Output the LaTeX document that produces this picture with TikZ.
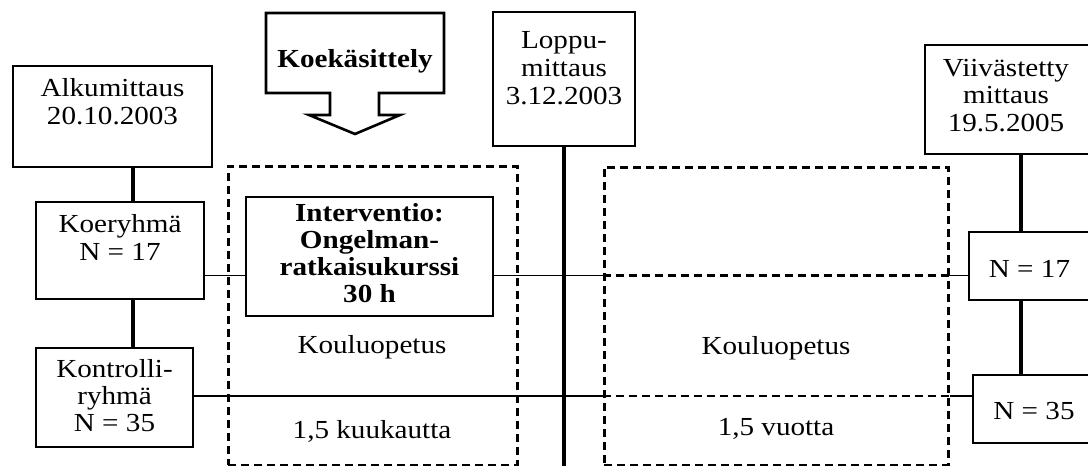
\documentclass[tikz,border=0pt]{standalone}
\usepackage{fontspec}
\setmainfont{Liberation Serif}[FakeStretch=1.12]
\begin{document}
\begin{tikzpicture}[x=1pt,y=-1pt,
  box/.style={draw, line width=2.6pt, inner sep=0pt, fill=white},
  lbl/.style={font=\fontsize{26}{28}\selectfont, align=center, inner sep=0pt},
  blbl/.style={lbl, font=\fontsize{26}{27}\selectfont\bfseries},
  conn/.style={line width=1.4pt},
  thickconn/.style={line width=4pt},
  dbox/.style={draw, line width=3pt, dash pattern=on 8pt off 5pt, inner sep=0pt},
  dline/.style={line width=2.2pt, dash pattern=on 8pt off 5pt},
  callout/.style={line width=2.6pt, line join=miter}]
\useasboundingbox (0,0) rectangle (1088,466);

% dashed period frames
\node[dbox, minimum width=289pt, minimum height=299pt] (dl) at (372.5,315.5) {};
\node[dbox, minimum width=344pt, minimum height=298pt] (dr) at (776,316) {};

% helper coordinates
\coordinate (r1) at (0,275.5);
\coordinate (r2) at (0,396);
\coordinate (vl) at (133,0);
\coordinate (vr) at (1021,0);
\coordinate (lb) at (564,470);

% boxes
\node[box, minimum width=199pt, minimum height=101pt] (alku) at (112.5,116.5) {};
\node[box, minimum width=168pt, minimum height=97pt] (koe) at (120,250.5) {};
\node[box, minimum width=157pt, minimum height=99pt] (kontr) at (114.5,397.5) {};
\node[box, minimum width=247pt, minimum height=119pt] (interv) at (369.5,256.5) {};
\node[box, minimum width=142pt, minimum height=134pt] (loppu) at (564,79) {};
\node[box, minimum width=165pt, minimum height=109pt] (viiv) at (1007.5,99.5) {};
\node[box, minimum width=121pt, minimum height=68pt] (n17) at (1029.5,266) {};
\node[box, minimum width=122pt, minimum height=68pt] (n35) at (1034,409) {};

% texts
\node[lbl] (talku) at (112.5,102) {Alkumittaus\\20.10.2003};
\node[lbl] (tkoe) at (120,237) {Koeryhmä\\N = 17};
\node[lbl, font=\fontsize{26}{27}\selectfont] (tkontr) at (114.5,396) {Kontrolli-\\ryhmä\\N = 35};
\node[blbl] (tinterv) at (369.5,253.5) {Interventio:\\Ongelman-\\ratkaisukurssi\\30 h};
\node[lbl] (tloppu) at (564,68) {Loppu-\\mittaus\\3.12.2003};
\node[lbl, font=\fontsize{26}{27.5}\selectfont] (tviiv) at (1006,95.5) {Viivästetty\\mittaus\\19.5.2005};
\node[lbl, anchor=base] (t17) at (1029.5,277) {N = 17};
\node[lbl, anchor=base] (t35) at (1034,419) {N = 35};
\node[lbl, anchor=base] (kl) at (372,353) {Kouluopetus};
\node[lbl, anchor=base] (kkl) at (372,438) {1,5 kuukautta};
\node[lbl, anchor=base] (kr) at (776,354) {Kouluopetus};
\node[lbl, anchor=base] (kvr) at (776,435) {1,5 vuotta};

% treatment callout arrow
\draw[callout] (266,13) -- (444,13) -- (444,93) -- (379,93) -- (379,115) -- (400,115)
  -- (355,134) -- (309,115) -- (330,115) -- (330,93) -- (266,93) -- cycle;
\node[blbl, anchor=base] (koek) at (355,67) {Koekäsittely};

% vertical connectors
\draw[thickconn] (alku.south -| vl) -- (koe.north -| vl);
\draw[thickconn] (koe.south -| vl) -- (kontr.north -| vl);
\draw[thickconn] (loppu.south) -- (lb);
\draw[thickconn] (viiv.south -| vr) -- (n17.north -| vr);
\draw[thickconn] (n17.south -| vr) -- (n35.north -| vr);

% group lines
\draw[conn] (koe.east |- r1) -- (interv.west |- r1);
\draw[conn] (interv.east |- r1) -- (dr.west |- r1);
\draw[dline] (dr.west |- r1) -- (dr.east |- r1);
\draw[conn] (dr.east |- r1) -- (n17.west |- r1);
\draw[conn] (kontr.east |- r2) -- (dr.west |- r2);
\draw[dline] (dr.west |- r2) -- (dr.east |- r2);
\draw[conn] (dr.east |- r2) -- (n35.west |- r2);
\end{tikzpicture}
\end{document}
